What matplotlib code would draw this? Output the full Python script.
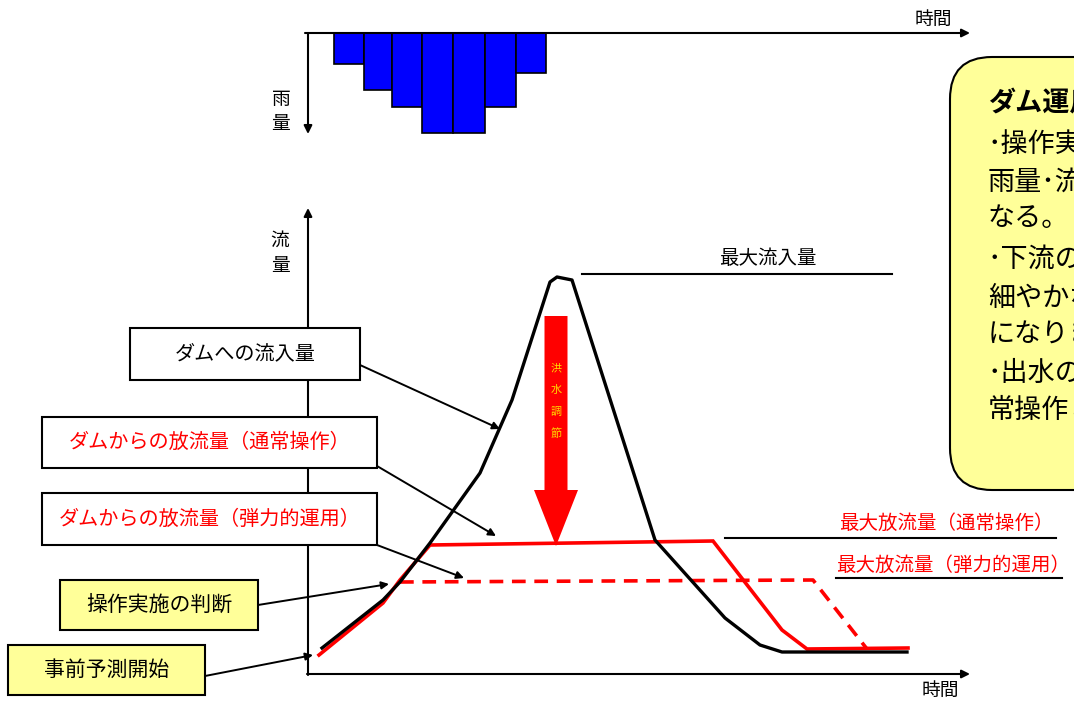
import matplotlib
matplotlib.use("Agg")
import matplotlib.pyplot as plt
from matplotlib.patches import Rectangle, FancyBboxPatch

plt.rcParams['font.family'] = ['Noto Sans CJK JP', 'DejaVu Sans']

# diagram units (x right, y down)
RAIN_AXIS_Y = 33
rain_left = [334, 364, 392, 422, 453, 485, 516]
rain_width = [30, 28, 30, 31, 32, 31, 30]
rain_depth = [31, 57, 74, 100, 100, 74, 40]

inflow_t = [322, 383, 400, 430, 480, 512, 550, 557, 572, 655, 725, 760, 782, 907]
inflow_q = [648, 600, 582, 543, 473, 400, 282, 277, 280, 540, 618, 645, 652, 652]

normal_t = [319, 383, 400, 430, 713, 782, 807, 908]
normal_q = [655, 603, 580, 545, 541, 630, 649, 648]

elastic_t = [400, 813, 867]
elastic_q = [582, 580, 649]

# label boxes: text, x0, y0, width, height, face, text colour
label_text = ['ダムへの流入量', 'ダムからの放流量（通常操作）', 'ダムからの放流量（弾力的運用）',
              '操作実施の判断', '事前予測開始']
label_box = [(130, 328, 230, 52), (42, 417, 335, 51), (42, 493, 335, 52),
             (60, 580, 198, 50), (8, 645, 197, 50)]
label_face = ['white', 'white', 'white', '#FFFF99', '#FFFF99']
label_color = ['black', 'red', 'red', 'black', 'black']
label_size = [14.5, 14.5, 14.5, 15, 15]
# pointer arrows from the boxes to the curves
pointer_from = [(360, 365), (377, 466), (377, 545), (258, 605), (205, 676)]
pointer_to = [(500, 429), (496, 536), (464, 578), (389, 584), (313, 655)]

# the note box runs off the right edge of the picture
note_lines = ['ダム運用の課題', '･操作実施の判断には、高精度な', '雨量･流量の予測が必要と',
              'なる。', '･下流の状況に応じたきめ', '細やかな操作が必要', 'になります。',
              '･出水の規模に応じて通', '常操作と弾力的運用を選択']
note_y = [103, 145, 182, 219, 260, 298, 335, 373, 410]

fig = plt.figure(figsize=(10.74, 7.02), dpi=100)
ax = fig.add_axes([0, 0, 1, 1])
ax.set_xlim(0, 1074)
ax.set_ylim(702, 0)
ax.axis('off')


def arrow(p0, p1, lw=1.5, ms=12):
    ax.annotate('', xy=p1, xytext=p0,
                arrowprops=dict(arrowstyle='-|>', lw=lw, color='black', mutation_scale=ms,
                                shrinkA=0, shrinkB=0))


# rainfall hyetograph
ax.bar(rain_left, rain_depth, width=rain_width, bottom=RAIN_AXIS_Y, align='edge',
       color='#0000FF', edgecolor='black', linewidth=1.2, zorder=2)
arrow((305, RAIN_AXIS_Y), (970, RAIN_AXIS_Y))
arrow((308, RAIN_AXIS_Y), (308, 134))
ax.text(933, 19, '時間', fontsize=13.5, ha='center', va='center')
ax.text(281, 99, '雨', fontsize=13.5, ha='center', va='center')
ax.text(281, 124, '量', fontsize=13.5, ha='center', va='center')

# hydrograph axes
arrow((307, 674), (970, 674))
arrow((308, 675), (308, 208))
ax.text(280, 240, '流', fontsize=13.5, ha='center', va='center')
ax.text(280, 265, '量', fontsize=13.5, ha='center', va='center')
ax.text(940, 690, '時間', fontsize=13.5, ha='center', va='center')

# curves
ax.plot(normal_t, normal_q, color='red', lw=2.6, solid_joinstyle='miter', zorder=3)
ax.plot(elastic_t, elastic_q, color='red', lw=2.6, linestyle=(0, (3.8, 2.4)), zorder=3)
ax.plot(inflow_t, inflow_q, color='black', lw=2.4, zorder=4)

# flood control arrow
ax.arrow(556, 316, 0, 230, width=23, head_width=44, head_length=56,
         length_includes_head=True, color='red', lw=0, zorder=5)
for i, ch in enumerate('洪水調節'):
    ax.text(556, 368 + 22 * i, ch, fontsize=8, color='#FFD800', ha='center', va='center', zorder=6)

# reference levels
ax.plot([582, 892], [274, 274], color='black', lw=1.5)
ax.text(768, 259, '最大流入量', fontsize=14, ha='center', va='center')
ax.plot([725, 1056], [538, 538], color='black', lw=1.5)
ax.text(946, 523, '最大放流量（通常操作）', fontsize=14, color='red', ha='center', va='center')
ax.plot([836, 1062], [578, 578], color='black', lw=1.5)
ax.text(953, 565, '最大放流量（弾力的運用）', fontsize=14, color='red', ha='center', va='center')

# label boxes and pointers
for txt, (x0, y0, w, h), fc, tc, fs in zip(label_text, label_box, label_face, label_color, label_size):
    ax.add_patch(Rectangle((x0, y0), w, h, facecolor=fc, edgecolor='black', lw=1.5, zorder=7))
    ax.text(x0 + w / 2, y0 + h / 2, txt, fontsize=fs, color=tc, ha='center', va='center', zorder=8)
for p0, p1 in zip(pointer_from, pointer_to):
    arrow(p0, p1, lw=1.4, ms=11)

# note box on the right
ax.add_patch(FancyBboxPatch((950, 57), 220, 433, boxstyle='round,pad=0,rounding_size=42',
                            facecolor='#FFFF99', edgecolor='black', lw=1.5, zorder=7))
for i, (line, y) in enumerate(zip(note_lines, note_y)):
    ax.text(988, y, line, fontsize=19.5, ha='left', va='center', zorder=8,
            fontweight='bold' if i == 0 else 'normal')

fig.savefig('out.png', dpi=100)
